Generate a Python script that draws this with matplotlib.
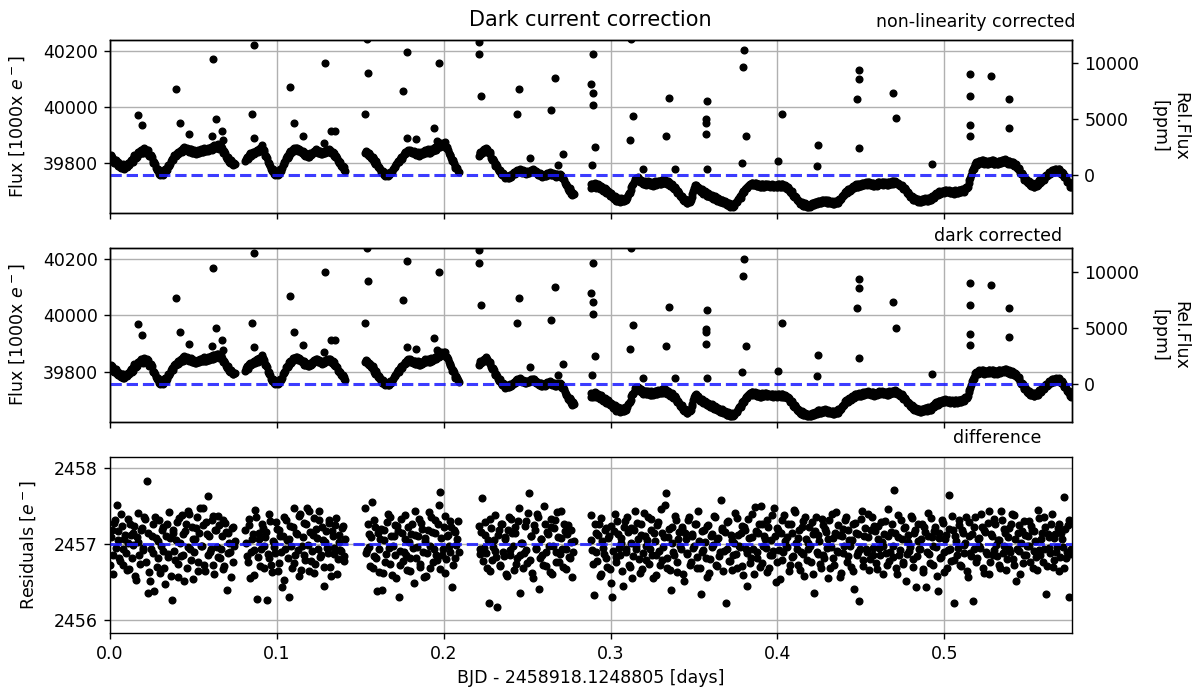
import numpy as np
import matplotlib
matplotlib.use("Agg")
import matplotlib.pyplot as plt
from matplotlib.ticker import MultipleLocator

# ---- data ---------------------------------------------------------------
cadence = 0.001                                   # days between exposures
seg_start = [0.000, 0.081, 0.153, 0.221, 0.288]   # start of each visit chunk

# non-linearity corrected flux [1000 e-] on whole-step exposures, per chunk
flux_seg = [
    [39818, 39822, 39806, 39811, 39795, 39802, 39786, 39794, 39781, 39792,
     39786, 39799, 39805, 39803, 39819, 39826, 39823, 39838, 39842, 39836,
     39849, 39840, 39846, 39832, 39826, 39822, 39800, 39796, 39776, 39773,
     39758, 39768, 39764, 39779, 39776, 39793, 39797, 39814, 39817, 39829,
     39834, 39831, 39844, 39839, 39853, 39845, 39855, 39843, 39849, 39837,
     39844, 39834, 39842, 39836, 39847, 39839, 39850, 39841, 39851, 39844,
     39855, 39848, 39860, 39852, 39864, 39853, 39859, 39852, 39836, 39834,
     39816, 39815, 39801, 39803, 39794, 39797],
    [39806, 39821, 39822, 39834, 39831, 39840, 39835, 39846, 39842, 39852,
     39846, 39845, 39826, 39818, 39796, 39791, 39771, 39772, 39759, 39766,
     39761, 39778, 39781, 39802, 39806, 39824, 39826, 39842, 39841, 39852,
     39846, 39853, 39844, 39848, 39836, 39839, 39826, 39831, 39821, 39834,
     39831, 39844, 39841, 39846, 39836, 39842, 39831, 39842, 39836, 39846,
     39841, 39846, 39834, 39836, 39821, 39818, 39801, 39802, 39786, 39785,
     39772],
    [39836, 39839, 39826, 39829, 39816, 39813, 39796, 39795, 39781, 39779,
     39764, 39766, 39755, 39762, 39757, 39769, 39768, 39784, 39786, 39801,
     39802, 39816, 39816, 39831, 39831, 39844, 39841, 39846, 39836, 39841,
     39831, 39836, 39826, 39836, 39831, 39842, 39838, 39845, 39836, 39846,
     39841, 39852, 39846, 39859, 39856, 39869, 39866, 39872, 39861, 39856,
     39836, 39828, 39806, 39801, 39781, 39781, 39767],
    [39826, 39839, 39836, 39849, 39846, 39849, 39836, 39831, 39811, 39808,
     39791, 39788, 39771, 39771, 39756, 39758, 39746, 39754, 39748, 39759,
     39756, 39767, 39764, 39775, 39771, 39776, 39766, 39771, 39761, 39771,
     39766, 39776, 39771, 39775, 39764, 39767, 39756, 39761, 39751, 39759,
     39754, 39765, 39761, 39766, 39756, 39761, 39751, 39762, 39756, 39758,
     39746, 39741, 39721, 39718, 39701, 39701, 39686, 39688],
    [39712, 39724, 39719, 39727, 39714, 39720, 39710, 39714, 39702, 39706,
     39692, 39697, 39683, 39687, 39673, 39678, 39666, 39672, 39664, 39671,
     39665, 39674, 39676, 39692, 39703, 39722, 39732, 39748, 39742, 39744,
     39731, 39737, 39726, 39733, 39724, 39732, 39721, 39730, 39722, 39733,
     39724, 39735, 39727, 39738, 39729, 39737, 39727, 39731, 39719, 39722,
     39708, 39709, 39694, 39693, 39678, 39679, 39664, 39666, 39656, 39668,
     39667, 39688, 39712, 39723, 39711, 39710, 39698, 39703, 39692, 39696,
     39684, 39689, 39678, 39684, 39672, 39678, 39666, 39672, 39661, 39667,
     39656, 39660, 39650, 39656, 39646, 39652, 39648, 39661, 39660, 39676,
     39676, 39694, 39696, 39712, 39710, 39722, 39721, 39729, 39722, 39728,
     39718, 39724, 39714, 39726, 39716, 39727, 39717, 39723, 39718, 39722,
     39716, 39720, 39716, 39725, 39714, 39724, 39713, 39718, 39708, 39709,
     39694, 39694, 39678, 39679, 39664, 39666, 39654, 39659, 39648, 39654,
     39644, 39651, 39646, 39656, 39651, 39661, 39656, 39666, 39658, 39668,
     39661, 39668, 39658, 39665, 39656, 39662, 39654, 39662, 39658, 39672,
     39671, 39686, 39686, 39701, 39696, 39709, 39704, 39718, 39711, 39724,
     39716, 39726, 39718, 39729, 39721, 39731, 39724, 39732, 39721, 39729,
     39718, 39726, 39722, 39733, 39726, 39732, 39724, 39729, 39721, 39733,
     39726, 39735, 39728, 39734, 39724, 39727, 39718, 39716, 39706, 39703,
     39691, 39690, 39678, 39680, 39668, 39673, 39662, 39670, 39661, 39671,
     39664, 39673, 39666, 39675, 39668, 39684, 39676, 39694, 39686, 39700,
     39692, 39702, 39696, 39704, 39696, 39702, 39694, 39700, 39692, 39702,
     39694, 39703, 39696, 39704, 39701, 39713, 39716, 39738, 39756, 39778,
     39785, 39802, 39795, 39808, 39800, 39810, 39796, 39806, 39798, 39808,
     39800, 39809, 39796, 39805, 39798, 39807, 39800, 39810, 39804, 39812,
     39798, 39806, 39796, 39803, 39790, 39795, 39780, 39778, 39760, 39758,
     39741, 39743, 39728, 39733, 39719, 39726, 39716, 39728, 39721, 39738,
     39731, 39748, 39744, 39758, 39756, 39768, 39764, 39776, 39768, 39779,
     39771, 39778, 39762, 39764, 39749, 39745, 39731, 39728, 39713],
]

# same, on the half-step exposures in between
flux_seg_half = [
    [39828, 39809, 39800, 39811, 39791, 39798, 39782, 39795, 39779, 39791,
     39797, 39794, 39812, 39805, 39830, 39818, 39837, 39832, 39848, 39834,
     39852, 39837, 39845, 39824, 39830, 39806, 39802, 39783, 39780, 39761,
     39770, 39759, 39775, 39771, 39788, 39790, 39808, 39810, 39828, 39825,
     39839, 39835, 39847, 39842, 39857, 39846, 39851, 39840, 39850, 39836,
     39845, 39833, 39845, 39836, 39849, 39840, 39853, 39842, 39855, 39845,
     39858, 39849, 39863, 39853, 39866, 39850, 39862, 39841, 39842, 39822,
     39823, 39804, 39809, 39795, 39799],
    [39816, 39813, 39830, 39826, 39838, 39833, 39843, 39838, 39850, 39843,
     39851, 39838, 39825, 39803, 39800, 39778, 39778, 39762, 39767, 39758,
     39771, 39773, 39794, 39797, 39818, 39819, 39837, 39835, 39850, 39844,
     39855, 39843, 39850, 39839, 39842, 39828, 39833, 39822, 39830, 39828,
     39840, 39838, 39849, 39836, 39844, 39833, 39840, 39835, 39845, 39839,
     39849, 39836, 39840, 39825, 39824, 39806, 39806, 39790, 39791, 39775],
    [39843, 39830, 39834, 39819, 39823, 39802, 39806, 39785, 39787, 39769,
     39772, 39758, 39764, 39754, 39766, 39764, 39778, 39791, 39795, 39808,
     39812, 39822, 39826, 39838, 39835, 39848, 39838, 39843, 39834, 39840,
     39829, 39839, 39828, 39838, 39833, 39847, 39836, 39849, 39837, 39850,
     39843, 39856, 39848, 39864, 39858, 39873, 39865, 39874, 39855, 39848,
     39829, 39818, 39810, 39789, 39787, 39772],
    [39834, 39832, 39845, 39840, 39853, 39840, 39838, 39819, 39816, 39796,
     39796, 39777, 39776, 39761, 39763, 39749, 39752, 39748, 39756, 39751,
     39764, 39762, 39772, 39770, 39779, 39768, 39774, 39763, 39768, 39765,
     39773, 39770, 39778, 39767, 39770, 39759, 39763, 39753, 39758, 39753,
     39762, 39759, 39768, 39758, 39763, 39753, 39760, 39755, 39762, 39749,
     39748, 39729, 39725, 39707, 39710, 39691, 39694],
    [39726, 39713, 39729, 39712, 39725, 39707, 39719, 39700, 39711, 39692,
     39702, 39684, 39692, 39674, 39683, 39664, 39676, 39661, 39675, 39663,
     39677, 39668, 39687, 39694, 39716, 39724, 39744, 39738, 39750, 39733,
     39740, 39725, 39735, 39722, 39735, 39720, 39733, 39719, 39735, 39722,
     39737, 39726, 39740, 39728, 39741, 39725, 39735, 39718, 39727, 39711,
     39715, 39697, 39699, 39682, 39684, 39667, 39671, 39656, 39667, 39662,
     39680, 39702, 39720, 39714, 39716, 39700, 39706, 39690, 39700, 39684,
     39692, 39679, 39687, 39673, 39681, 39667, 39675, 39660, 39670, 39657,
     39663, 39650, 39659, 39645, 39655, 39645, 39658, 39665, 39672, 39682,
     39688, 39699, 39707, 39716, 39719, 39726, 39730, 39721, 39730, 39717,
     39726, 39714, 39725, 39716, 39727, 39717, 39725, 39716, 39725, 39714,
     39723, 39713, 39725, 39715, 39724, 39713, 39720, 39708, 39714, 39697,
     39699, 39682, 39684, 39667, 39670, 39655, 39662, 39648, 39656, 39645,
     39652, 39644, 39656, 39650, 39660, 39654, 39666, 39658, 39668, 39660,
     39669, 39659, 39667, 39656, 39664, 39653, 39663, 39656, 39669, 39668,
     39682, 39682, 39698, 39694, 39707, 39702, 39716, 39710, 39722, 39716,
     39725, 39718, 39728, 39721, 39730, 39723, 39733, 39722, 39730, 39719,
     39727, 39719, 39732, 39725, 39734, 39723, 39731, 39721, 39732, 39725,
     39735, 39726, 39736, 39724, 39730, 39718, 39722, 39707, 39710, 39693,
     39695, 39680, 39684, 39669, 39675, 39663, 39671, 39660, 39671, 39663,
     39674, 39665, 39676, 39667, 39681, 39676, 39690, 39686, 39698, 39691,
     39701, 39694, 39705, 39695, 39704, 39693, 39702, 39691, 39703, 39693,
     39704, 39695, 39706, 39698, 39712, 39710, 39730, 39745, 39770, 39778,
     39798, 39794, 39806, 39799, 39810, 39799, 39806, 39797, 39808, 39799,
     39809, 39797, 39806, 39796, 39808, 39799, 39810, 39802, 39813, 39800,
     39807, 39796, 39804, 39792, 39798, 39782, 39784, 39765, 39764, 39745,
     39747, 39731, 39735, 39721, 39728, 39715, 39727, 39719, 39735, 39730,
     39744, 39741, 39755, 39752, 39766, 39761, 39775, 39767, 39778, 39771,
     39779, 39765, 39768, 39751, 39752, 39733, 39734, 39716],
]

# cosmic-ray hits / outliers [days, 1000 e-]
out_t = [0.0170, 0.0190, 0.0397, 0.0417, 0.0473, 0.0617, 0.0637, 0.0613, 0.0669,
         0.0677, 0.0863, 0.0853, 0.0863, 0.0909, 0.1078, 0.1102, 0.1156, 0.1288,
         0.1282, 0.1322, 0.1348, 0.1538, 0.1548, 0.1528, 0.1778, 0.1754, 0.1973,
         0.1941, 0.1778, 0.1833, 0.1958, 0.2213, 0.2213, 0.2223, 0.2451, 0.2441,
         0.2666, 0.2644, 0.2516, 0.2712, 0.2686, 0.3122, 0.2896, 0.2880, 0.2896,
         0.2896, 0.2906, 0.2886, 0.3136, 0.3116, 0.3192, 0.3352, 0.3332, 0.3386,
         0.3579, 0.3571, 0.3571, 0.3571, 0.3579, 0.3799, 0.3795, 0.3809, 0.3789,
         0.4026, 0.4004, 0.4244, 0.4238, 0.4474, 0.4486, 0.4486, 0.4486, 0.4691,
         0.4710, 0.4929, 0.5151, 0.5151, 0.5151, 0.5151, 0.5281, 0.5385, 0.5385]
out_flux = [39970, 39934, 40065, 39943, 39902, 40169, 39956, 39895, 39914,
            39881, 40221, 39974, 39890, 39863, 40071, 39943, 39896, 40157,
            39871, 39913, 39913, 40240, 40122, 39974, 40194, 40057, 40155,
            39923, 39889, 39884, 39879, 40232, 40188, 40038, 40065, 39974,
            40103, 39987, 39819, 39831, 39792, 40240, 40188, 40080, 40051,
            40006, 39857, 39792, 39967, 39883, 39780, 40033, 39895, 39780,
            40020, 39955, 39943, 39902, 39780, 40202, 40143, 39895, 39800,
            39974, 39806, 39863, 39788, 40027, 40098, 40131, 39852, 40050,
            39959, 39796, 40117, 40038, 39935, 39896, 40110, 40027, 39924]

# difference (dark current) [e-] on whole-step exposures, per chunk
resid_seg = [
    [2456.72, 2457.18, 2456.85, 2457.31, 2457.52, 2457.05, 2456.78, 2457.24, 2456.93, 2457.12,
     2456.66, 2457.02, 2457.27, 2456.81, 2457.15, 2456.58, 2457.09, 2457.41, 2456.74, 2457.21,
     2456.95, 2457.33, 2457.83, 2456.35, 2456.52, 2457.11, 2456.88, 2457.36, 2456.70, 2457.04,
     2456.62, 2457.19, 2456.91, 2456.48, 2457.26, 2456.83, 2457.08, 2456.27, 2457.14, 2456.79,
     2457.29, 2456.57, 2457.01, 2457.38, 2456.86, 2457.17, 2456.69, 2457.43, 2456.94, 2457.22,
     2456.54, 2457.06, 2457.35, 2456.77, 2457.48, 2456.98, 2457.25, 2456.64, 2457.13, 2457.63,
     2456.89, 2457.32, 2456.73, 2457.18, 2456.96, 2457.37, 2456.82, 2457.10, 2456.67, 2457.28,
     2456.40, 2457.15, 2456.90, 2457.21, 2456.76, 2457.04],
    [2457.19, 2456.84, 2457.33, 2456.55, 2457.07, 2456.92, 2457.45, 2456.28, 2457.14, 2456.71,
     2457.26, 2456.97, 2457.09, 2456.27, 2456.81, 2457.30, 2456.63, 2457.02, 2456.88, 2457.20,
     2456.75, 2457.11, 2456.44, 2457.36, 2456.93, 2457.05, 2456.31, 2457.24, 2456.69, 2457.47,
     2456.86, 2457.13, 2456.58, 2457.39, 2456.98, 2457.28, 2456.79, 2457.48, 2456.65, 2457.16,
     2456.91, 2457.34, 2456.74, 2457.08, 2457.44, 2456.83, 2457.22, 2456.45, 2457.03, 2456.95,
     2457.31, 2456.70, 2457.17, 2456.87, 2457.25, 2456.60, 2457.12, 2456.92, 2457.21, 2456.78,
     2457.06],
    [2457.48, 2456.92, 2457.13, 2456.71, 2457.55, 2456.84, 2457.22, 2456.38, 2456.63, 2457.06,
     2456.40, 2457.18, 2456.77, 2457.29, 2456.95, 2457.35, 2456.59, 2457.10, 2456.86, 2457.24,
     2456.30, 2456.72, 2457.15, 2456.90, 2457.38, 2456.66, 2457.03, 2456.82, 2457.27, 2456.49,
     2457.12, 2456.96, 2457.33, 2456.74, 2457.20, 2456.57, 2457.08, 2456.88, 2457.42, 2456.68,
     2457.16, 2456.93, 2457.31, 2456.79, 2457.52, 2457.68, 2456.85, 2457.23, 2456.62, 2457.11,
     2456.97, 2457.30, 2456.43, 2457.19, 2456.81, 2457.07, 2456.90],
    [2457.24, 2456.87, 2457.61, 2456.95, 2457.12, 2456.68, 2456.22, 2457.33, 2456.79, 2457.05,
     2456.91, 2456.17, 2457.18, 2456.73, 2457.27, 2456.84, 2457.09, 2456.58, 2457.36, 2456.92,
     2457.14, 2456.66, 2457.22, 2456.81, 2457.47, 2456.35, 2457.02, 2456.88, 2457.30, 2456.75,
     2457.67, 2457.11, 2456.62, 2457.25, 2456.94, 2457.39, 2456.41, 2457.06, 2456.85, 2457.50,
     2456.71, 2457.16, 2456.97, 2457.33, 2456.60, 2457.21, 2456.89, 2457.42, 2456.76, 2457.08,
     2456.93, 2457.27, 2456.67, 2457.13, 2456.83, 2457.19, 2456.57, 2457.04],
    [2457.38, 2456.92, 2456.33, 2457.15, 2456.78, 2457.26, 2456.61, 2457.04, 2456.87, 2457.21,
     2456.70, 2457.11, 2456.49, 2456.31, 2457.17, 2456.83, 2457.30, 2456.95, 2457.08, 2456.64,
     2457.23, 2456.89, 2457.36, 2456.72, 2457.02, 2456.56, 2457.19, 2456.93, 2457.28, 2456.80,
     2457.12, 2456.67, 2457.41, 2456.97, 2457.05, 2456.74, 2457.33, 2456.86, 2457.14, 2456.59,
     2457.25, 2456.91, 2457.46, 2456.79, 2457.09, 2457.67, 2456.68, 2457.20, 2456.40, 2457.01,
     2456.85, 2457.31, 2456.63, 2457.16, 2456.94, 2457.22, 2456.52, 2457.07, 2456.88, 2457.35,
     2456.76, 2457.13, 2456.98, 2457.27, 2456.69, 2457.04, 2456.34, 2456.90, 2457.18, 2456.81,
     2457.24, 2456.62, 2457.10, 2456.96, 2457.37, 2456.73, 2457.06, 2456.84, 2457.58, 2457.19,
     2456.91, 2456.23, 2457.29, 2456.78, 2457.12, 2456.66, 2457.02, 2456.87, 2457.34, 2456.97,
     2457.15, 2456.71, 2457.23, 2456.93, 2456.45, 2457.08, 2456.82, 2457.40, 2456.60, 2457.17,
     2456.89, 2457.26, 2457.50, 2456.75, 2457.11, 2456.95, 2457.32, 2456.68, 2457.05, 2456.86,
     2457.47, 2456.50, 2457.21, 2456.92, 2457.14, 2456.79, 2457.38, 2456.98, 2457.09, 2456.64,
     2457.27, 2456.83, 2457.45, 2457.02, 2456.72, 2457.18, 2456.90, 2457.30, 2456.58, 2457.06,
     2456.94, 2457.22, 2456.77, 2457.13, 2456.36, 2457.35, 2456.87, 2457.04, 2456.69, 2457.25,
     2456.81, 2457.16, 2456.55, 2457.31, 2456.96, 2457.08, 2456.73, 2457.42, 2456.89, 2457.12,
     2456.62, 2457.20, 2456.97, 2457.36, 2456.84, 2457.05, 2456.70, 2457.27, 2456.41, 2457.14,
     2456.90, 2456.25, 2457.33, 2456.79, 2457.10, 2456.93, 2457.40, 2456.66, 2457.18, 2456.85,
     2457.24, 2456.75, 2457.07, 2456.95, 2457.29, 2456.60, 2457.13, 2456.88, 2457.46, 2456.78,
     2457.16, 2456.98, 2457.71, 2456.69, 2457.09, 2456.86, 2457.32, 2456.74, 2457.21, 2456.51,
     2457.03, 2456.91, 2457.37, 2456.80, 2457.14, 2456.43, 2457.26, 2456.94, 2457.06, 2456.67,
     2457.22, 2456.44, 2457.11, 2456.87, 2457.34, 2456.72, 2457.17, 2456.96, 2456.38, 2457.08,
     2456.83, 2457.28, 2456.63, 2457.12, 2456.92, 2457.65, 2456.78, 2457.19, 2456.22, 2457.04,
     2456.95, 2457.31, 2456.71, 2457.15, 2456.88, 2457.36, 2456.57, 2457.10, 2456.84, 2456.25,
     2457.23, 2456.76, 2457.07, 2456.97, 2457.40, 2456.69, 2457.18, 2456.90, 2457.28, 2456.61,
     2457.13, 2456.85, 2457.33, 2456.99, 2457.05, 2456.73, 2457.44, 2456.88, 2457.20, 2456.66,
     2457.09, 2456.94, 2457.26, 2456.80, 2457.38, 2456.52, 2457.15, 2456.91, 2457.02, 2456.75,
     2457.30, 2456.86, 2457.11, 2456.97, 2457.24, 2456.68, 2457.17, 2456.83, 2457.45, 2456.92,
     2457.06, 2456.77, 2457.35, 2456.34, 2457.13, 2456.95, 2457.27, 2456.70, 2457.08, 2456.89,
     2457.21, 2456.64, 2457.14, 2456.96, 2457.62, 2456.81, 2457.25, 2456.31, 2456.93],
]

# same, on the half-step exposures in between
resid_seg_half = [
    [2457.09, 2456.61, 2457.28, 2456.95, 2457.17, 2456.82, 2457.40, 2456.73, 2457.06, 2456.88,
     2457.33, 2456.67, 2457.12, 2456.99, 2457.24, 2456.53, 2457.03, 2456.86, 2457.19, 2456.92,
     2457.36, 2456.77, 2457.14, 2456.63, 2456.94, 2457.27, 2456.38, 2457.08, 2456.81, 2457.31,
     2456.97, 2457.22, 2456.69, 2457.11, 2456.87, 2457.42, 2456.58, 2457.18, 2456.91, 2457.05,
     2456.74, 2457.34, 2456.84, 2457.13, 2456.51, 2457.26, 2456.96, 2457.39, 2456.79, 2457.07,
     2456.89, 2457.21, 2456.65, 2457.15, 2456.98, 2457.47, 2456.72, 2457.29, 2456.85, 2457.10,
     2456.93, 2457.37, 2456.60, 2457.19, 2456.83, 2457.25, 2456.94, 2457.32, 2456.71, 2457.16,
     2456.88, 2457.02, 2456.57, 2457.23, 2456.97],
    [2457.02, 2456.76, 2457.25, 2456.90, 2457.13, 2456.59, 2457.35, 2456.83, 2457.07, 2456.94,
     2457.21, 2456.68, 2457.16, 2456.87, 2457.40, 2456.72, 2457.04, 2456.96, 2457.29, 2456.64,
     2457.18, 2456.89, 2457.10, 2456.53, 2457.32, 2456.81, 2457.06, 2456.97, 2457.23, 2456.75,
     2457.14, 2456.92, 2457.37, 2456.66, 2457.09, 2456.85, 2457.26, 2456.99, 2457.43, 2456.78,
     2457.12, 2456.62, 2457.20, 2456.93, 2457.31, 2456.86, 2457.05, 2456.70, 2457.17, 2456.88,
     2457.28, 2456.58, 2457.11, 2456.95, 2457.34, 2456.80, 2457.03, 2456.91, 2457.24, 2456.84],
    [2456.88, 2457.27, 2456.96, 2457.09, 2456.69, 2457.32, 2456.81, 2457.14, 2456.93, 2457.20,
     2456.62, 2457.05, 2456.87, 2457.39, 2456.74, 2457.11, 2456.98, 2457.25, 2456.55, 2457.17,
     2456.91, 2457.33, 2456.78, 2457.07, 2456.85, 2457.22, 2456.64, 2457.13, 2456.95, 2457.44,
     2456.82, 2457.10, 2456.70, 2457.28, 2456.89, 2457.04, 2456.58, 2457.19, 2456.97, 2457.35,
     2456.76, 2457.15, 2456.86, 2457.26, 2456.67, 2457.08, 2456.94, 2457.37, 2456.80, 2457.12,
     2456.90, 2457.23, 2456.73, 2457.16, 2456.99, 2457.30],
    [2456.93, 2457.16, 2456.78, 2457.29, 2456.88, 2457.05, 2456.65, 2457.21, 2456.96, 2457.38,
     2456.83, 2457.12, 2456.71, 2457.26, 2456.90, 2457.07, 2456.61, 2457.19, 2456.86, 2457.33,
     2456.97, 2457.14, 2456.74, 2457.30, 2456.85, 2457.02, 2456.68, 2457.24, 2456.92, 2457.41,
     2456.79, 2457.10, 2456.56, 2457.18, 2456.95, 2457.35, 2456.82, 2457.06, 2456.72, 2457.27,
     2456.89, 2457.13, 2456.63, 2457.22, 2456.98, 2457.31, 2456.77, 2457.09, 2456.87, 2457.44,
     2456.70, 2457.17, 2456.94, 2457.25, 2456.81, 2457.03, 2456.90],
    [2457.05, 2456.74, 2457.27, 2456.89, 2457.12, 2456.58, 2457.34, 2456.95, 2457.19, 2456.82,
     2457.08, 2456.67, 2457.24, 2456.91, 2457.39, 2456.77, 2457.13, 2456.86, 2457.02, 2456.45,
     2457.30, 2456.93, 2457.16, 2456.70, 2457.21, 2456.84, 2457.43, 2456.97, 2457.07, 2456.62,
     2457.26, 2456.88, 2457.11, 2456.79, 2457.35, 2456.94, 2457.18, 2456.55, 2457.04, 2456.85,
     2457.29, 2456.72, 2457.14, 2456.96, 2457.52, 2456.81, 2457.09, 2456.66, 2457.23, 2456.90,
     2457.37, 2456.76, 2457.06, 2456.98, 2457.20, 2456.61, 2457.15, 2456.87, 2457.32, 2456.73,
     2457.10, 2456.95, 2457.27, 2456.83, 2457.44, 2456.69, 2457.17, 2456.92, 2457.03, 2456.57,
     2457.25, 2456.80, 2457.13, 2456.99, 2457.36, 2456.71, 2457.08, 2456.89, 2457.21, 2456.64,
     2457.16, 2456.93, 2457.30, 2456.78, 2457.05, 2456.86, 2457.41, 2456.68, 2457.12, 2456.96,
     2457.24, 2456.59, 2457.18, 2456.88, 2457.33, 2456.75, 2457.09, 2456.94, 2457.49, 2456.82,
     2457.14, 2456.70, 2457.27, 2456.97, 2457.06, 2456.63, 2457.22, 2456.85, 2457.38, 2456.91,
     2457.11, 2456.77, 2457.19, 2456.54, 2457.31, 2456.89, 2457.04, 2456.96, 2457.26, 2456.72,
     2457.15, 2456.84, 2457.42, 2456.93, 2457.08, 2456.66, 2457.23, 2456.87, 2457.35, 2456.79,
     2457.02, 2456.98, 2457.29, 2456.61, 2457.17, 2456.90, 2457.12, 2456.74, 2457.33, 2456.86,
     2457.20, 2456.95, 2457.07, 2456.69, 2457.39, 2456.82, 2457.14, 2456.91, 2457.25, 2456.57,
     2457.10, 2456.88, 2457.32, 2456.76, 2457.18, 2456.97, 2457.05, 2456.64, 2457.28, 2456.85,
     2457.13, 2456.93, 2457.44, 2456.71, 2457.21, 2456.89, 2457.09, 2456.80, 2457.36, 2456.95,
     2457.17, 2456.67, 2457.24, 2456.86, 2457.03, 2456.98, 2457.30, 2456.73, 2457.11, 2456.90,
     2457.26, 2456.83, 2457.15, 2456.60, 2457.38, 2456.92, 2457.07, 2456.77, 2457.22, 2456.87,
     2457.12, 2456.96, 2457.34, 2456.70, 2457.19, 2456.84, 2457.04, 2456.93, 2457.27, 2456.63,
     2457.16, 2456.89, 2457.41, 2456.75, 2457.09, 2456.97, 2457.23, 2456.58, 2457.14, 2456.82,
     2457.31, 2456.90, 2457.06, 2456.68, 2457.20, 2456.94, 2457.37, 2456.79, 2457.11, 2456.86,
     2457.25, 2456.72, 2457.18, 2456.99, 2457.02, 2456.65, 2457.29, 2456.88, 2457.13, 2456.93,
     2457.35, 2456.81, 2457.08, 2456.95, 2457.22, 2456.62, 2457.16, 2456.87, 2457.43, 2456.76,
     2457.10, 2456.92, 2457.27, 2456.84, 2457.05, 2456.69, 2457.32, 2456.97, 2457.14, 2456.80,
     2457.21, 2456.89, 2457.39, 2456.73, 2457.07, 2456.94, 2457.25, 2456.60, 2457.17, 2456.86,
     2457.12, 2456.98, 2457.30, 2456.77, 2457.19, 2456.91, 2457.04, 2456.66, 2457.34, 2456.85,
     2457.15, 2456.93, 2457.23, 2456.71, 2457.09, 2456.88, 2457.40, 2456.79, 2457.13, 2456.96,
     2457.26, 2456.83, 2457.06, 2456.68, 2457.20, 2456.90, 2457.31, 2456.87],
]

flux_median = 39757.0    # reference level (0 ppm), 1000 e-
dark_level = 2457.0      # mean dark current, e-
t_zero = "2458918.1248805"

flux_lim = (39622, 40238)
resid_lim = (2455.83, 2458.145)
t_max = 0.5765


def stamp(starts, segs, offset):
    return np.concatenate([s + offset + cadence * np.arange(len(v)) for s, v in zip(starts, segs)])


# ---- assemble ----------------------------------------------------------------
all_t = np.concatenate([stamp(seg_start, flux_seg, 0.0),
                        stamp(seg_start, flux_seg_half, cadence / 2), out_t])
flux_nl = np.concatenate([np.concatenate(flux_seg), np.concatenate(flux_seg_half), out_flux])
flux_dark = flux_nl - dark_level / 1000.0
t_res = np.concatenate([stamp(seg_start, resid_seg, 0.0),
                        stamp(seg_start, resid_seg_half, cadence / 2)])
resid = np.concatenate([np.concatenate(resid_seg), np.concatenate(resid_seg_half)])

plt.rcParams.update({
    "font.size": 12.5,
    "axes.linewidth": 1.0,
    "xtick.major.size": 4.4, "ytick.major.size": 4.4,
    "xtick.major.width": 1.0, "ytick.major.width": 1.0,
    "xtick.major.pad": 4.4, "ytick.major.pad": 4.4,
})
fig = plt.figure(figsize=(12.01, 6.88), dpi=100)
W = 1201.0; H = 688.0
left = 110 / W; width = (1072 - 110) / W
ax1 = fig.add_axes([left, 1 - 213 / H, width, 173 / H])
ax2 = fig.add_axes([left, 1 - 422 / H, width, 174 / H], sharex=ax1)
ax3 = fig.add_axes([left, 1 - 633 / H, width, 176 / H], sharex=ax1)


def flux_panel(ax, y):
    ax.plot(all_t, y, "o", color="k", ms=4.8, zorder=2)
    ax.axhline(flux_median, color="#1a1aff", ls="--", lw=2.2, alpha=0.85, zorder=3)
    ax.set_ylim(*flux_lim)
    ax.yaxis.set_major_locator(MultipleLocator(200))
    ax.set_ylabel(r"Flux [1000x $e^-$]", labelpad=11)
    ax.grid(True, color="#b0b0b0", lw=1.0)
    ax.tick_params(labelbottom=False)
    axr = ax.twinx()
    axr.set_ylim((flux_lim[0] / flux_median - 1) * 1e6, (flux_lim[1] / flux_median - 1) * 1e6)
    axr.set_yticks([0, 5000, 10000])
    axr.set_ylabel("Rel.Flux\n[ppm]", rotation=270, va="bottom", labelpad=8)


flux_panel(ax1, flux_nl)
flux_panel(ax2, flux_dark)

ax3.plot(t_res, resid, "o", color="k", ms=4.8, zorder=2)
ax3.axhline(dark_level, color="#1a1aff", ls="--", lw=2.2, alpha=0.85, zorder=3)
ax3.set_ylim(*resid_lim)
ax3.yaxis.set_major_locator(MultipleLocator(1))
ax3.set_ylabel(r"Residuals [$e^-$]", labelpad=11)
ax3.grid(True, color="#b0b0b0", lw=1.0)
ax3.set_xlim(0, t_max)
ax3.set_xlabel(f"BJD - {t_zero} [days]")

fig.text(590 / W, 1 - 20 / H, "Dark current correction", ha="center", va="center", fontsize=15)
fig.text(1076 / W, 1 - 22 / H, "non-linearity corrected", ha="right", va="center")
fig.text(1062 / W, 1 - 236 / H, "dark corrected", ha="right", va="center")
fig.text(1041 / W, 1 - 438 / H, "difference", ha="right", va="center")

fig.savefig("out.png", dpi=100)
